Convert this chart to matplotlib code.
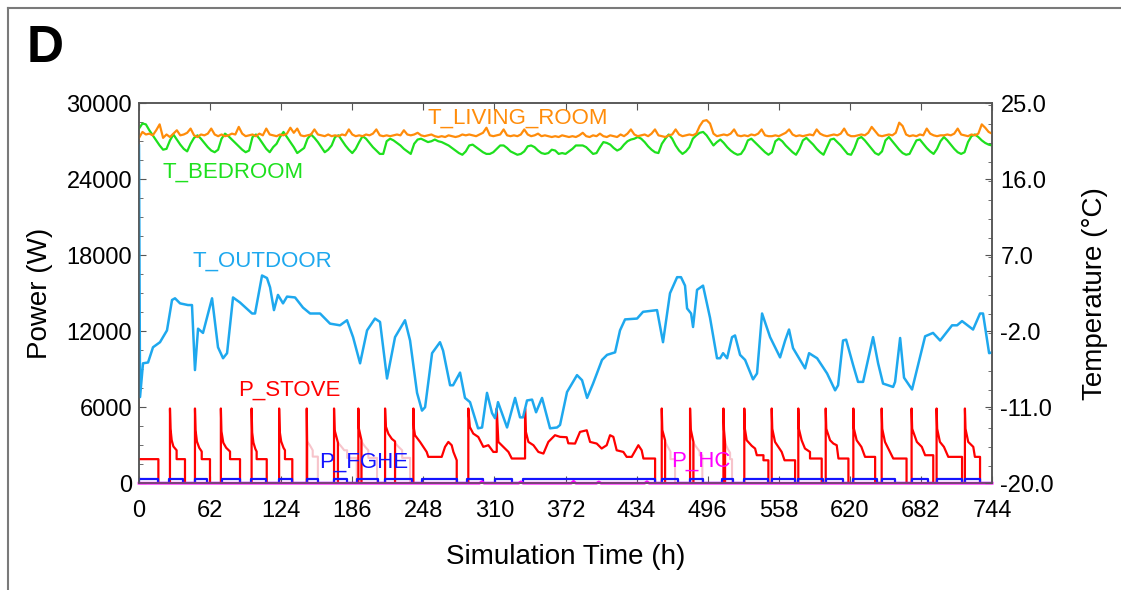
import numpy as np
import matplotlib
matplotlib.use("Agg")
import matplotlib.pyplot as plt
from matplotlib.ticker import MultipleLocator, FormatStrFormatter
from matplotlib.lines import Line2D

plt.rcParams['font.family'] = ['Liberation Sans', 'DejaVu Sans']

# --- data ---
# room temperatures, one row per day, samples every 3 h (0,3,...,21 h) + final point at 744 h
t_living = [
    [20.9, 21.6, 21.3, 21.4, 21.2, 21.8, 22.5, 20.9],
    [21.3, 21.0, 21.4, 21.8, 21.2, 21.3, 21.5, 22.0],
    [21.2, 21.0, 21.3, 21.2, 21.4, 22.0, 21.3, 21.1],
    [21.3, 21.1, 21.2, 21.4, 21.3, 22.2, 21.4, 21.1],
    [21.2, 21.3, 21.1, 21.4, 21.2, 22.0, 21.3, 21.2],
    [21.1, 21.3, 21.2, 21.4, 22.1, 21.5, 22.0, 21.2],
    [21.1, 21.2, 21.3, 21.9, 21.3, 21.2, 21.1, 21.3],
    [21.1, 21.2, 21.1, 21.3, 21.2, 21.9, 21.3, 21.1],
    [21.2, 21.1, 21.3, 21.2, 21.4, 21.9, 21.2, 21.1],
    [21.2, 21.1, 21.2, 21.3, 21.2, 21.8, 21.3, 21.2],
    [21.3, 21.5, 21.2, 21.1, 21.2, 21.3, 21.1, 21.0],
    [21.1, 21.0, 21.2, 21.1, 21.0, 21.1, 21.3, 21.2],
    [21.3, 21.2, 21.1, 21.3, 21.5, 22.1, 21.2, 21.1],
    [21.2, 21.3, 21.9, 21.2, 21.1, 21.2, 21.1, 21.3],
    [21.9, 21.3, 21.1, 21.2, 21.4, 21.1, 21.2, 21.1],
    [21.0, 21.1, 21.0, 21.2, 21.1, 21.0, 21.1, 21.0],
    [21.2, 21.5, 21.1, 21.0, 21.2, 21.1, 21.4, 21.1],
    [21.0, 21.2, 21.1, 21.0, 21.3, 21.1, 21.4, 21.9],
    [21.3, 21.1, 21.2, 21.3, 21.1, 21.4, 21.9, 21.2],
    [21.1, 21.0, 21.2, 21.3, 21.9, 21.3, 21.1, 21.2],
    [21.3, 21.2, 21.4, 22.3, 22.9, 23.0, 22.6, 21.4],
    [21.1, 21.2, 21.3, 21.2, 21.4, 21.9, 21.2, 21.1],
    [21.2, 21.1, 21.3, 21.2, 21.4, 21.9, 21.2, 21.1],
    [21.1, 21.2, 21.1, 21.3, 21.5, 21.9, 21.3, 21.1],
    [21.2, 21.1, 21.2, 21.3, 21.2, 21.9, 21.4, 21.2],
    [21.1, 21.2, 21.3, 21.2, 21.4, 22.0, 21.3, 21.1],
    [21.1, 21.2, 21.3, 21.2, 21.5, 22.2, 21.7, 21.2],
    [21.1, 21.2, 21.3, 21.2, 21.5, 22.7, 22.3, 21.3],
    [21.1, 21.2, 21.1, 21.3, 21.2, 22.0, 21.4, 21.2],
    [21.1, 21.2, 21.2, 21.3, 21.2, 21.4, 22.0, 21.3],
    [21.2, 21.1, 21.3, 21.2, 21.4, 22.5, 22.1, 21.6],
]
t_living_end = 21.4

t_bedroom = [
    [22.0, 22.6, 22.5, 21.8, 21.2, 20.6, 20.0, 19.5],
    [19.6, 20.6, 21.3, 20.7, 20.1, 19.6, 19.3, 20.2],
    [20.9, 21.2, 20.8, 20.3, 19.8, 19.4, 19.2, 19.5],
    [20.8, 21.4, 21.1, 20.7, 20.3, 19.9, 19.5, 19.2],
    [19.4, 21.0, 21.3, 20.8, 20.2, 19.6, 19.2, 19.8],
    [20.2, 21.0, 21.6, 21.0, 20.4, 19.8, 19.1, 19.4],
    [19.7, 20.8, 21.3, 20.9, 20.4, 19.8, 19.2, 19.5],
    [20.0, 21.0, 21.2, 20.6, 20.0, 19.5, 19.1, 19.6],
    [20.4, 21.1, 20.8, 20.3, 19.8, 19.4, 19.0, 19.0],
    [20.5, 20.8, 20.6, 20.3, 20.0, 19.6, 19.3, 19.0],
    [20.2, 20.7, 20.8, 20.6, 20.4, 20.5, 20.7, 20.5],
    [20.4, 20.2, 20.0, 19.7, 19.4, 19.1, 18.9, 19.3],
    [20.0, 20.1, 19.8, 19.5, 19.2, 19.0, 19.0, 19.2],
    [19.6, 20.0, 20.0, 19.7, 19.3, 19.1, 18.9, 19.0],
    [19.3, 19.9, 20.0, 19.8, 19.4, 19.1, 19.0, 19.1],
    [19.5, 19.4, 19.0, 19.1, 19.0, 19.3, 19.6, 20.0],
    [20.0, 20.0, 19.8, 19.4, 19.0, 19.1, 19.8, 20.4],
    [20.3, 20.1, 19.7, 19.4, 19.6, 20.1, 20.5, 20.7],
    [20.8, 21.0, 20.8, 20.4, 19.9, 19.5, 19.2, 19.1],
    [20.2, 20.8, 21.3, 20.8, 20.0, 19.4, 19.0, 19.3],
    [19.8, 20.8, 21.2, 21.5, 21.6, 21.2, 20.6, 20.0],
    [20.4, 20.7, 20.3, 19.8, 19.4, 19.1, 18.9, 19.0],
    [19.6, 20.6, 20.8, 20.4, 20.0, 19.6, 19.2, 18.9],
    [19.2, 20.5, 20.8, 20.5, 20.0, 19.6, 19.2, 18.9],
    [19.6, 20.6, 20.9, 20.5, 20.1, 19.6, 19.2, 18.9],
    [19.8, 20.7, 20.8, 20.4, 20.0, 19.5, 19.0, 18.9],
    [19.7, 20.8, 21.0, 20.6, 20.1, 19.6, 19.1, 18.9],
    [19.3, 20.6, 21.0, 20.5, 20.0, 19.5, 19.1, 18.9],
    [19.0, 19.8, 20.6, 20.7, 20.2, 19.7, 19.3, 19.0],
    [19.6, 20.5, 21.0, 20.6, 20.1, 19.6, 19.2, 19.0],
    [19.2, 20.4, 21.1, 21.3, 21.0, 20.6, 20.3, 20.1],
]
t_bedroom_end = 20.0

# outdoor temperature (h, degC)
out_t = [0, 0.9, 3.5, 7.9, 12.2, 18.3, 24.4, 28.8, 31.4, 35.8, 42.7, 46.2, 48.8, 51.5, 55.8,
         63.7, 68.9, 73.3, 76.8, 82.0, 88.1, 98.6, 101.2, 107.3, 111.6, 114.3, 117.7, 121.2,
         125.6, 129.1, 136.1, 143.0, 149.2, 157.9, 166.6, 175.3, 181.4, 186.7, 192.8, 198.9,
         205.8, 210.2, 216.3, 223.3, 232.0, 236.4, 242.5, 246.8, 249.5, 255.6, 262.5, 265.2,
         271.3, 273.9, 280.0, 284.3, 288.7, 295.7, 299.2, 303.5, 307.9, 310.5, 313.1, 321.0,
         328.0, 332.3, 334.9, 338.4, 342.8, 346.3, 351.5, 358.5, 364.6, 367.2, 373.3, 382.0,
         386.4, 390.8, 396.0, 403.8, 408.2, 415.2, 419.5, 423.9, 434.4, 439.6, 451.8, 457.0,
         463.1, 469.3, 472.7, 476.2, 478.0, 481.5, 483.2, 486.7, 491.9, 498.0, 504.1, 506.8,
         509.4, 512.9, 517.2, 519.8, 524.2, 528.6, 535.5, 539.0, 543.4, 550.4, 559.1, 563.5,
         566.9, 570.4, 580.9, 584.4, 591.4, 600.1, 607.1, 609.7, 614.0, 616.7, 622.8, 627.1,
         631.5, 640.2, 644.6, 648.9, 653.3, 657.7, 659.4, 663.8, 667.2, 674.2, 685.6, 692.5,
         698.7, 709.1, 713.5, 717.8, 727.4, 733.5, 736.1, 741.4, 744]
out_T = [20.0, -9.8, -5.8, -5.7, -3.9, -3.3, -1.9, 1.7, 1.9, 1.3, 1.1, 1.1, -6.6, -1.7, -2.2,
         1.9, -3.9, -5.2, -4.6, 2.0, 1.4, 0.1, 0.1, 4.6, 4.3, 3.2, 0.5, 2.3,
         1.3, 2.1, 2.0, 0.8, 0.1, 0.1, -1.1, -1.3, -0.7, -2.7, -5.8, -1.9,
         -0.5, -0.9, -7.6, -2.7, -0.7, -3.1, -9.3, -11.4, -11.0, -4.6, -3.3, -4.3,
         -8.4, -8.4, -6.9, -9.9, -10.4, -13.5, -13.4, -9.3, -11.7, -12.3, -10.4, -13.4,
         -9.9, -12.2, -12.2, -10.2, -10.1, -11.6, -9.9, -13.5, -13.4, -13.1, -9.2, -7.2,
         -7.8, -9.9, -8.2, -5.4, -4.8, -4.5, -1.9, -0.6, -0.5, 0.3, 0.5, -3.3,
         2.5, 4.4, 4.4, 3.4, 0.7, 0.1, -1.5, 2.9, 3.4, -0.4, -5.2, -5.2,
         -4.6, -5.2, -2.7, -2.5, -4.8, -5.4, -7.7, -7.0, 0.1, -2.7, -5.1, -3.1,
         -1.8, -4.0, -6.4, -4.6, -5.2, -7.0, -9.0, -8.4, -3.1, -3.0, -6.0, -8.0,
         -8.0, -2.7, -5.8, -8.2, -8.4, -8.6, -8.0, -2.8, -7.5, -8.9, -2.6, -2.2,
         -3.1, -1.3, -1.3, -0.8, -1.8, 0.1, 0.1, -4.6, -4.5]

# stove power breakpoints (h, W)
stove_t = [0, 16.9, 16.9, 27.0, 27.0, 27.5, 28.5, 30.0, 32.8, 32.8, 40.1, 40.1,
           48.8, 48.8, 49.3, 50.5, 52.5, 54.7, 54.7, 61.9, 61.9,
           71.4, 71.4, 71.9, 73.5, 76.0, 79.4, 79.4, 88.1, 88.1,
           98.2, 98.2, 98.7, 99.8, 101.5, 102.6, 102.6, 111.4, 111.4,
           122.2, 122.2, 122.7, 124.0, 126.0, 127.3, 127.3, 133.7, 133.7,
           146.3, 146.3, 146.6, 146.6,
           170.1, 170.1, 170.6, 173.5, 173.5,
           191.3, 191.3, 191.8, 194.0, 194.0,
           214.6, 214.6, 215.2, 217.5, 220.5, 223.3, 223.3,
           239.3, 239.3, 239.8, 240.7, 245.1, 248.0, 250.9, 252.3, 264.0, 266.9, 269.8,
           272.7, 274.2, 277.1, 277.1,
           287.2, 287.2, 288.5, 291.5, 295.9, 300.3, 304.7, 309.0, 312.0,
           312.0, 313.4, 317.8, 322.2, 325.1, 336.7,
           336.7, 337.3, 339.6, 344.0, 348.3, 352.7, 357.0, 362.8, 367.2, 373.0, 374.4,
           380.3, 384.6, 390.5, 393.4, 399.2, 403.5, 407.9, 410.8, 413.7, 416.6, 422.4,
           425.3, 429.7, 435.5, 438.4, 439.9, 450.1, 450.1,
           455.9, 455.9, 456.4, 458.8, 458.8,
           480.6, 480.6, 481.1, 483.5, 483.5,
           509.7, 509.7, 510.2, 511.1, 511.1,
           527.9, 527.9, 528.4, 530.0, 534.4, 537.3, 538.8, 544.6, 544.6, 548.9, 548.9,
           551.8, 551.8, 552.3, 554.7, 557.6, 560.5, 563.0, 572.2, 572.2,
           575.0, 575.0, 575.5, 577.9, 580.8, 585.2, 585.2, 595.4, 595.4,
           598.9, 598.9, 599.4, 602.7, 605.6, 608.5, 610.0, 618.7, 618.7,
           623.0, 623.0, 623.5, 625.9, 630.0, 633.2, 642.0, 642.0,
           647.7, 647.7, 648.2, 650.6, 654.9, 657.8, 669.4, 669.4,
           673.8, 673.8, 674.3, 678.4, 682.7, 685.6, 692.7, 692.7,
           695.6, 695.6, 696.1, 698.5, 702.0, 705.8, 717.8, 717.8,
           720.3, 720.3, 720.8, 723.2, 727.6, 729.0, 733.5, 733.5, 744]
stove_p = [1900, 1900, 0, 0, 5900, 4300, 3400, 2900, 2600, 1900, 1900, 0,
           0, 5900, 4200, 3300, 2800, 2500, 1900, 1900, 0,
           0, 5900, 4100, 3200, 2800, 2500, 1900, 1900, 0,
           0, 5900, 4000, 3200, 2700, 2500, 1900, 1900, 0,
           0, 5900, 4100, 3300, 2800, 2600, 1900, 1900, 0,
           0, 5900, 3400, 0,
           0, 5900, 4200, 3200, 0,
           0, 5900, 4300, 3400, 0,
           0, 5900, 4500, 3900, 3500, 3300, 0,
           0, 5900, 4300, 3790, 3260, 2860, 2470, 2080, 2080, 2870, 3260,
           3000, 2470, 1810, 0,
           0, 5900, 4440, 3920, 3650, 2870, 3000, 2470, 2470,
           5900, 3260, 2870, 2470, 1950, 1950,
           5900, 4100, 3260, 3000, 2470, 2340, 3260, 3790, 3660, 3630, 3150,
           3130, 4050, 4180, 3260, 3130, 2740, 3000, 3790, 3660, 2600, 2470,
           2080, 2080, 3000, 2600, 1950, 1950, 0,
           0, 5900, 4200, 3390, 0,
           0, 5900, 4300, 3260, 0,
           0, 5900, 4200, 3260, 0,
           0, 5900, 4300, 3390, 2950, 2740, 2210, 2210, 1810, 1810, 0,
           0, 5900, 4300, 3260, 2870, 2470, 1810, 1810, 0,
           0, 5900, 4300, 3390, 2740, 2470, 1950, 1950, 0,
           0, 5900, 4300, 3390, 3130, 3000, 1950, 1950, 0,
           0, 5900, 4300, 3390, 2870, 2080, 2080, 0,
           0, 5900, 4300, 3260, 2470, 1950, 1950, 0,
           0, 5900, 4300, 3260, 2870, 2210, 2210, 0,
           0, 5900, 4300, 3260, 2870, 2080, 2080, 0,
           0, 5900, 4300, 3260, 2870, 2080, 2080, 0, 0]

# faint pink power trace (h, W)
pink_t = [0, 146.6, 146.6, 149.0, 151.5, 151.5, 156.0, 156.0,
          173.5, 173.5, 176.4, 179.0, 181.5, 181.5, 189.9, 189.9,
          194.0, 194.0, 197.0, 200.0, 200.0, 207.6, 207.6,
          223.3, 223.3, 226.0, 229.5, 229.5, 236.4, 236.4,
          458.8, 458.8, 461.0, 463.5, 463.5, 467.5, 467.5,
          483.5, 483.5, 486.5, 489.0, 489.0, 491.3, 491.3,
          511.1, 511.1, 513.5, 515.5, 515.5, 517.2, 517.2, 744]
pink_p = [0, 0, 3300, 3000, 2600, 2100, 2100, 0,
          0, 3200, 2900, 2600, 2600, 2000, 2000, 0,
          0, 3300, 2900, 2600, 2000, 2000, 0,
          0, 3200, 2900, 2600, 2000, 2000, 0,
          0, 3300, 2900, 2500, 1900, 1900, 0,
          0, 3200, 2800, 2500, 2200, 2200, 0,
          0, 3200, 2700, 2400, 1900, 1900, 0, 0]

# FGHE on/off periods (h), power when on (W)
fghe_on = [0, 26.4, 48.8, 72.1, 97.4, 122.1, 146.3, 170.1, 190.4, 214.6, 246.6, 286.4,
           310.5, 335.2, 455.9, 480.6, 508.8, 527.9, 551.8, 575.0, 598.9, 623.0, 647.7,
           673.9, 695.7, 720.4]
fghe_off = [16.8, 38.6, 59.6, 88.1, 110.8, 133.7, 156.4, 181.2, 208.7, 237.8, 277.1, 300.3,
            325.1, 450.1, 470.4, 492.2, 517.8, 548.9, 572.2, 596.8, 614.3, 643.4, 659.4,
            688.4, 717.5, 733.5]
fghe_power = 320

# heat pump / HC power (h, W)
hc_t = [0, 297, 299, 301, 331, 333, 335, 377, 379, 381, 399, 401, 403, 441, 443, 445, 744]
hc_p = [0, 0, 130, 0, 0, 110, 0, 0, 150, 0, 0, 100, 0, 0, 120, 0, 0]

x_ticks = list(range(0, 745, 62))
power_ticks = [0, 6000, 12000, 18000, 24000, 30000]
temp_ticks = [-20, -11, -2, 7, 16, 25]

# --- build series ---
t3 = np.arange(0, 745, 3)
living = np.append(np.array(t_living).ravel(), t_living_end)
bedroom = np.append(np.array(t_bedroom).ravel(), t_bedroom_end)

fg_t, fg_p = [], []
for on, off in zip(fghe_on, fghe_off):
    fg_t += [on, on, off, off]
    fg_p += [0, fghe_power, fghe_power, 0]
fg_t.append(744)
fg_p.append(0)

c_orange = '#ff8c0a'
c_green = '#1ee01e'
c_lblue = '#1ea8ee'
c_red = '#ff0000'
c_blue = '#1414ff'
c_mag = '#ff00ff'
c_pink = '#f7c4cb'
c_spine = '#555555'

fig = plt.figure(figsize=(11.21, 5.90), dpi=100)
ax = fig.add_axes([0.124, 0.181, 0.761, 0.644])
ax2 = ax.twinx()

# power traces
ax.plot(pink_t, pink_p, color=c_pink, lw=1.5, zorder=2)
ax.plot(stove_t, stove_p, color=c_red, lw=1.6, zorder=3)
ax.plot(fg_t, fg_p, color=c_blue, lw=1.6, zorder=4)
ax.plot(hc_t, hc_p, color=c_mag, lw=2.0, zorder=5, clip_on=False)

# temperature traces
ax2.plot(out_t, out_T, color=c_lblue, lw=1.8)
ax2.plot(t3, bedroom, color=c_green, lw=1.6)
ax2.plot(t3, living, color=c_orange, lw=1.6)

ax.set_xlim(0, 744)
ax.set_ylim(0, 30000)
ax2.set_ylim(-20, 25)
ax.set_xticks(x_ticks)
ax.set_yticks(power_ticks)
ax.yaxis.set_minor_locator(MultipleLocator(1500))
ax2.set_yticks(temp_ticks)
ax2.yaxis.set_minor_locator(MultipleLocator(2.25))
ax2.yaxis.set_major_formatter(FormatStrFormatter('%.1f'))

for a in (ax, ax2):
    for s in a.spines.values():
        s.set_color(c_spine)
        s.set_linewidth(1.1)
ax.tick_params(axis='x', which='major', direction='in', top=True, length=5,
               color=c_spine, labelsize=17, pad=12)
ax.tick_params(axis='y', which='both', direction='in', color=c_spine, labelsize=17, pad=5)
ax.tick_params(axis='y', which='major', length=5)
ax.tick_params(axis='y', which='minor', length=3)
ax2.tick_params(axis='y', which='both', direction='in', color=c_spine, labelsize=17, pad=6)
ax2.tick_params(axis='y', which='major', length=5)
ax2.tick_params(axis='y', which='minor', length=3)

ax.set_xlabel('Simulation Time (h)', fontsize=20, labelpad=16)
ax.set_ylabel('Power (W)', fontsize=20, labelpad=10)
ax2.set_ylabel('Temperature (\u00b0C)', fontsize=20, labelpad=20)

# series labels
ax2.text(330, 23.2, 'T_LIVING_ROOM', color=c_orange, fontsize=16, ha='center', va='center')
ax2.text(82, 16.8, 'T_BEDROOM', color=c_green, fontsize=16, ha='center', va='center')
ax2.text(108, 6.3, 'T_OUTDOOR', color=c_lblue, fontsize=16, ha='center', va='center')
ax.text(131, 7340, 'P_STOVE', color=c_red, fontsize=16, ha='center', va='center')
ax.text(196, 1660, 'P_FGHE', color=c_blue, fontsize=16, ha='center', va='center')
ax.text(490, 1740, 'P_HC', color=c_mag, fontsize=16, ha='center', va='center')

# panel letter and outer frame
fig.text(0.024, 0.895, 'D', fontsize=37, fontweight='bold', ha='left', va='baseline')
fx, fy = 8 / 1121, 1 - 8 / 590
fig.add_artist(Line2D([fx, 1.0], [fy, fy], color='#7a7a7a', lw=1.5))
fig.add_artist(Line2D([fx, fx], [0.0, fy], color='#7a7a7a', lw=1.5))

fig.savefig('out.png', dpi=100)
